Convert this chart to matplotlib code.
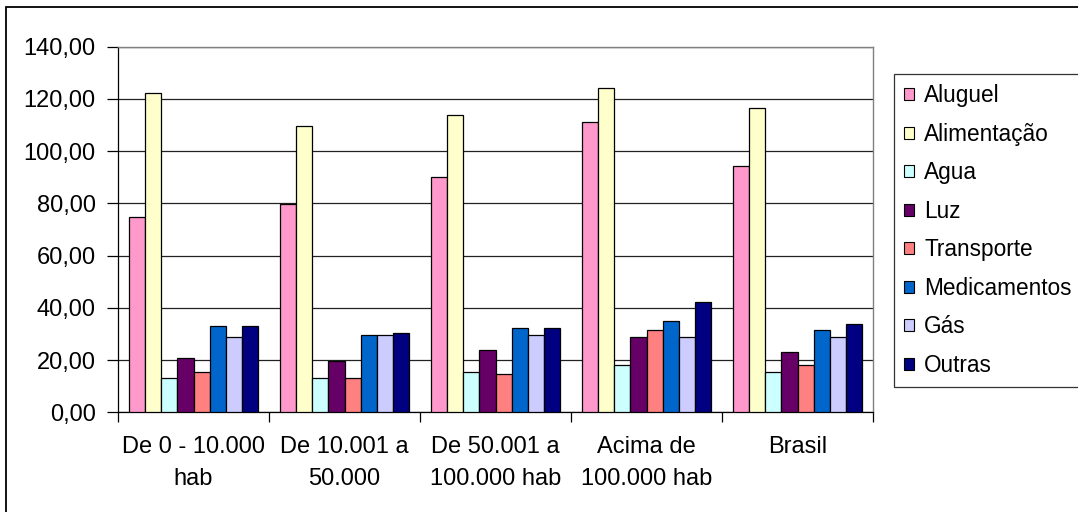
import matplotlib
matplotlib.use("Agg")
import matplotlib.pyplot as plt
from matplotlib.patches import Rectangle
from matplotlib.ticker import FixedLocator, FuncFormatter
import numpy as np

plt.rcParams['font.family'] = ['Liberation Sans', 'DejaVu Sans']

categories = ["De 0 - 10.000\nhab", "De 10.001 a\n50.000", "De 50.001 a\n100.000 hab",
              "Acima de\n100.000 hab", "Brasil"]
series_names = ["Aluguel", "Alimentação", "Agua", "Luz", "Transporte",
                "Medicamentos", "Gás", "Outras"]
aluguel = [74.6, 79.7, 90.1, 111.3, 94.3]
alimentacao = [122.4, 109.8, 114.0, 124.0, 116.7]
agua = [13.3, 13.3, 15.3, 18.2, 15.3]
luz = [20.9, 19.8, 23.9, 29.0, 23.2]
transporte = [15.3, 13.3, 14.7, 31.5, 18.2]
medicamentos = [33.1, 29.6, 32.3, 35.1, 31.4]
gas = [28.8, 29.6, 29.6, 28.8, 28.8]
outras = [33.1, 30.4, 32.3, 42.3, 33.7]
series_values = [aluguel, alimentacao, agua, luz, transporte, medicamentos, gas, outras]
colors = ["#FF99CC", "#FFFFCC", "#CCFFFF", "#660066", "#FF8080",
          "#0066CC", "#CCCCFF", "#000080"]
y_ticks = [0, 20, 40, 60, 80, 100, 120, 140]

W, H = 1078, 512
FS = 17
fig = plt.figure(figsize=(W / 100, H / 100), dpi=100)
ax = fig.add_axes([118 / W, 1 - 412.3 / H, 755 / W, 365.6 / H])

n = len(series_names)
bar_w = 0.106
x = np.arange(len(categories))
for i, (name, vals, c) in enumerate(zip(series_names, series_values, colors)):
    offs = (i - (n - 1) / 2) * bar_w
    ax.bar(x + offs, vals, width=bar_w, color=c, edgecolor="black",
           linewidth=0.9, label=name, zorder=3)

ax.set_xlim(-0.5, len(categories) - 0.5)
ax.set_ylim(0, 140)
ax.set_yticks(y_ticks)
ax.yaxis.set_major_formatter(FuncFormatter(lambda v, p: f"{v:.2f}".replace(".", ",")))
ax.set_xticks(x)
ax.set_xticklabels(categories, linespacing=1.6)
ax.xaxis.set_minor_locator(FixedLocator(np.arange(-0.5, len(categories), 1.0)))
ax.tick_params(axis="x", which="major", length=0, pad=17, labelsize=FS)
ax.tick_params(axis="x", which="minor", length=7, width=0.9, direction="out")
ax.tick_params(axis="y", length=8, width=0.9, direction="out", labelsize=FS, pad=8)

ax.grid(axis="y", color="#222222", linewidth=0.9, zorder=0)
for s in ["top", "right"]:
    ax.spines[s].set_color("#808080")
    ax.spines[s].set_linewidth(1.0)
for s in ["left", "bottom"]:
    ax.spines[s].set_color("black")
    ax.spines[s].set_linewidth(0.9)

leg = fig.legend(loc="upper left", bbox_to_anchor=(894 / W, 1 - 74 / H),
                 fontsize=16.3, frameon=True, fancybox=False, edgecolor="black",
                 handlelength=0.44, handleheight=0.44, handletextpad=0.45,
                 labelspacing=0.685, borderpad=0.45, borderaxespad=0)
leg.get_frame().set_linewidth(0.9)
for h in leg.legend_handles:
    h.set_linewidth(0.8)

# Outer chart frame
fig.patches.append(Rectangle((5.5 / W, -0.1), 1.2, 1 - 7 / H + 0.1,
                             transform=fig.transFigure, fill=False,
                             edgecolor="black", linewidth=1.3))

fig.savefig("out.png", dpi=100)
